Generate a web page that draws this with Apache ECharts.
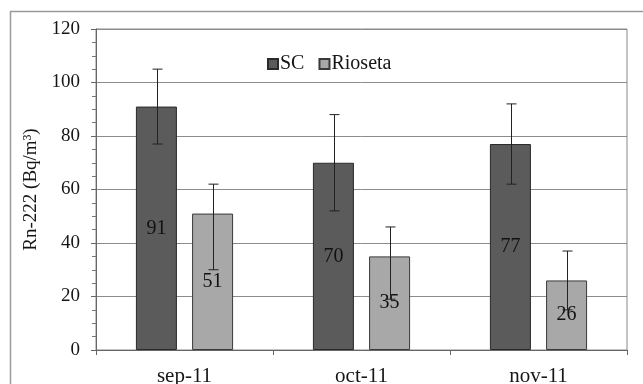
<!DOCTYPE html>
<html>
<head>
<meta charset="utf-8">
<script src="https://cdn.jsdelivr.net/npm/echarts@6/dist/echarts.min.js"></script>
<style>
html,body{margin:0;padding:0;background:#fff;}
#chart{width:643px;height:384px;}
</style>
</head>
<body>
<div id="chart"></div>
<script>
// Monthly Rn-222 concentrations at the two sites
const months = ['sep-11', 'oct-11', 'nov-11'];
const scValues = [91, 70, 77];
const scHigh = [105, 88, 92];
const scLow = [77, 52, 62];
const riosetaValues = [51, 35, 26];
const riosetaHigh = [62, 46, 37];
const riosetaLow = [30, 19, 15];
const yTicks = [0, 20, 40, 60, 80, 100, 120];

const FONT = '"Liberation Serif", "Times New Roman", serif';
const TEXT = '#161616';
const SC_COLOR = '#5b5b5b';
const RIO_COLOR = '#a8a8a8';

// Error-bar series drawn next to each bar of a group
function errorSeries(highs, lows, offset) {
  return {
    type: 'custom',
    data: months.map((m, i) => [i, lows[i], highs[i]]),
    z: 10,
    silent: true,
    renderItem: function (params, api) {
      const i = api.value(0);
      const lo = api.coord([i, api.value(1)]);
      const hi = api.coord([i, api.value(2)]);
      const x = Math.round(lo[0] + offset) + 0.5;
      const cap = 5;
      const style = { stroke: '#222', lineWidth: 1 };
      return {
        type: 'group',
        children: [
          { type: 'line', shape: { x1: x, y1: hi[1], x2: x, y2: lo[1] }, style: style },
          { type: 'line', shape: { x1: x - cap, y1: hi[1], x2: x + cap, y2: hi[1] }, style: style },
          { type: 'line', shape: { x1: x - cap, y1: lo[1], x2: x + cap, y2: lo[1] }, style: style }
        ]
      };
    }
  };
}

const chart = echarts.init(document.getElementById('chart'), null, { renderer: 'canvas' });
chart.setOption({
  animation: false,
  backgroundColor: '#fff',
  textStyle: { fontFamily: FONT },
  graphic: [{
    type: 'rect',
    shape: { x: 10.5, y: 11.5, width: 700, height: 400 },
    style: { fill: 'none', stroke: '#9a9a9a', lineWidth: 1.5 },
    silent: true
  }],
  legend: {
    data: ['SC', 'Rioseta'],
    left: 262,
    top: 49,
    icon: 'rect',
    itemWidth: 10,
    itemHeight: 10,
    itemGap: 14,
    textStyle: { fontFamily: FONT, fontSize: 20, color: TEXT, padding: [0, 0, 0, -3] }
  },
  grid: {
    left: 96, right: 16, top: 29, bottom: 34,
    outerBoundsMode: 'none', containLabel: false,
    show: true, borderColor: '#888', borderWidth: 1
  },
  xAxis: {
    type: 'category',
    data: months,
    axisLine: { lineStyle: { color: '#666' } },
    axisTick: { show: true, length: 5, lineStyle: { color: '#666' } },
    axisLabel: { fontFamily: FONT, fontSize: 21, color: TEXT, margin: 16 }
  },
  yAxis: {
    type: 'value',
    min: 0,
    max: 120,
    interval: 20,
    name: 'Rn-222 (Bq/m³)',
    nameLocation: 'middle',
    nameGap: 55,
    nameTextStyle: { fontFamily: FONT, fontSize: 19, color: TEXT },
    axisLine: { show: true, lineStyle: { color: '#666' } },
    axisTick: { show: true, length: 5, lineStyle: { color: '#666' } },
    minorTick: { show: true, splitNumber: 4, length: 4, lineStyle: { color: '#777' } },
    axisLabel: {
      fontFamily: FONT, fontSize: 19, color: TEXT, margin: 16,
      formatter: v => (yTicks.indexOf(v) >= 0 ? String(v) : '')
    },
    splitLine: { show: true, lineStyle: { color: '#8c8c8c', width: 1 } }
  },
  series: [
    {
      name: 'SC',
      type: 'bar',
      data: scValues,
      barWidth: 41,
      barGap: '37%',
      itemStyle: { color: SC_COLOR, borderColor: '#2a2a2a', borderWidth: 1 },
      label: { show: true, position: 'inside', fontFamily: FONT, fontSize: 20, color: '#111' }
    },
    {
      name: 'Rioseta',
      type: 'bar',
      data: riosetaValues,
      barWidth: 41,
      itemStyle: { color: RIO_COLOR, borderColor: '#3a3a3a', borderWidth: 1 },
      label: { show: true, position: 'inside', fontFamily: FONT, fontSize: 20, color: '#111' }
    },
    errorSeries(scHigh, scLow, -28),
    errorSeries(riosetaHigh, riosetaLow, 28)
  ]
});
</script>
</body>
</html>
